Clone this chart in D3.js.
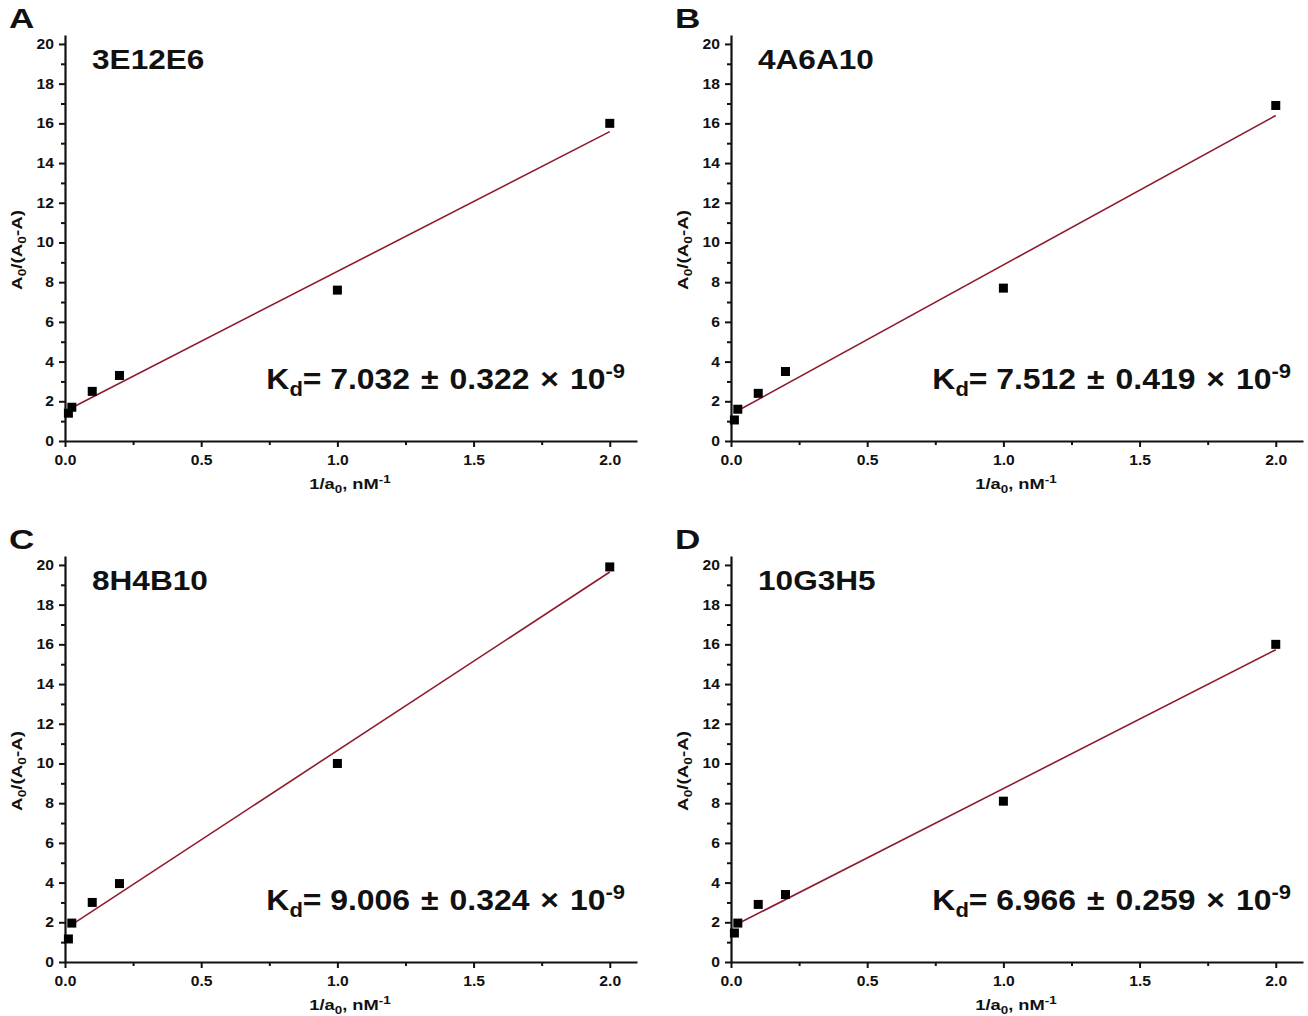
<!DOCTYPE html>
<html>
<head>
<meta charset="utf-8">
<script src="https://cdn.jsdelivr.net/npm/d3@7"></script>
<style>
  body { margin: 0; background: #fff; }
  svg { display: block; font-family: "Liberation Sans", Arial, sans-serif; font-weight: bold; }
</style>
</head>
<body>
<svg id="chart" width="1308" height="1016"></svg>
<script>
// values
var panelLetters = ["A", "B", "C", "D"];
var antibodies = ["3E12E6", "4A6A10", "8H4B10", "10G3H5"];
var inverseConc = [0.0125, 0.025, 0.1, 0.2, 1, 2]; // 1/a0, nM^-1
var ratioA = [1.4, 1.7, 2.5, 3.3, 7.6, 16.0];
var ratioB = [1.06, 1.6, 2.4, 3.5, 7.7, 16.9];
var ratioC = [1.16, 1.96, 3.0, 3.95, 10.0, 19.9];
var ratioD = [1.46, 1.96, 2.9, 3.4, 8.1, 16.0];
var kdValue = ["7.032", "7.512", "9.006", "6.966"];
var kdError = ["0.322", "0.419", "0.324", "0.259"];
var xTicks = [0, 0.5, 1, 1.5, 2];
var xMinorTicks = [0.25, 0.75, 1.25, 1.75];
var yTicks = d3.range(0, 21, 2);
var yMinorTicks = d3.range(1, 20, 2);

var series = [ratioA, ratioB, ratioC, ratioD];

var svg = d3.select("#chart"),
  plotW = 572,
  plotH = 406,
  origins = [[65, 441], [731, 441], [65, 962], [731, 962]],
  lineColor = "#8e1b2d";

var x = d3.scaleLinear().domain([0, 2.1]).range([0, plotW]),
  y = d3.scaleLinear().domain([0, 20.45]).range([plotH, 0]);

function fit(xs, ys) {
  var mx = d3.mean(xs), my = d3.mean(ys), sxy = 0, sxx = 0;
  for (var i = 0; i < xs.length; i++) {
    sxy += (xs[i] - mx) * (ys[i] - my);
    sxx += (xs[i] - mx) * (xs[i] - mx);
  }
  var slope = sxy / sxx;
  return { slope: slope, intercept: my - slope * mx };
}

// the original lettering is a bit wider than Liberation Sans
function wideText(g, px, py, sx, rot) {
  return g.append("text")
    .attr("transform", "translate(" + px + "," + py + ")" + (rot ? " rotate(" + rot + ")" : "") +
      " scale(" + sx + ",1)")
    .attr("fill", "#111");
}

function stretchTicks(sel, sx) {
  sel.selectAll(".tick text").each(function() {
    var t = d3.select(this),
      tx = +t.attr("x") || 0,
      ty = +t.attr("y") || 0;
    t.attr("font-size", 14).attr("font-family", "Liberation Sans, Arial, sans-serif")
      .attr("font-weight", "bold").attr("fill", "#111")
      .attr("x", 0).attr("y", 0)
      .attr("transform", "translate(" + tx + "," + ty + ") scale(" + sx + ",1)");
  });
}

series.forEach(function(vals, p) {
  var g = svg.append("g")
    .attr("transform", "translate(" + origins[p][0] + "," + (origins[p][1] - plotH) + ")");

  // axes: major + minor ticks
  var xAxis = g.append("g").attr("transform", "translate(0," + plotH + ")")
    .call(d3.axisBottom(x).tickValues(xTicks).tickSize(6).tickSizeOuter(0).tickPadding(8)
      .tickFormat(d3.format(".1f")));
  g.append("g").attr("transform", "translate(0," + plotH + ")")
    .call(d3.axisBottom(x).tickValues(xMinorTicks).tickSize(4).tickFormat(""))
    .select(".domain").remove();
  var yAxis = g.append("g")
    .call(d3.axisLeft(y).tickValues(yTicks).tickSize(6).tickSizeOuter(0).tickPadding(5));
  g.append("g")
    .call(d3.axisLeft(y).tickValues(yMinorTicks).tickSize(4).tickFormat(""))
    .select(".domain").remove();

  g.selectAll(".domain").attr("stroke-width", 2.2).attr("stroke", "#111");
  g.selectAll(".tick line").attr("stroke-width", 2).attr("stroke", "#111");
  stretchTicks(xAxis, 1.12);
  stretchTicks(yAxis, 1.12);

  // regression line
  var f = fit(inverseConc, vals),
    xr = d3.extent(inverseConc);
  g.append("line")
    .attr("x1", x(xr[0])).attr("y1", y(f.intercept + f.slope * xr[0]))
    .attr("x2", x(xr[1])).attr("y2", y(f.intercept + f.slope * xr[1]))
    .attr("stroke", lineColor).attr("stroke-width", 1.6);

  // points
  g.selectAll("rect.pt").data(vals).enter().append("rect")
    .attr("class", "pt")
    .attr("x", function(d, i) { return x(inverseConc[i]) - 4.5; })
    .attr("y", function(d) { return y(d) - 4.5; })
    .attr("width", 9).attr("height", 9)
    .attr("fill", "#000");

  // axis titles
  var xt = wideText(g, plotW / 2 - 1, plotH + 48, 1.22)
    .attr("text-anchor", "middle").attr("font-size", 15);
  xt.append("tspan").text("1/a");
  xt.append("tspan").attr("font-size", 11).attr("dy", 4).text("0");
  xt.append("tspan").attr("dy", -4).text(", nM");
  xt.append("tspan").attr("font-size", 11).attr("dy", -6).text("-1");

  var yt = wideText(g, -43, plotH / 2 + 12, 1.25, -90)
    .attr("text-anchor", "middle").attr("font-size", 15);
  yt.append("tspan").text("A");
  yt.append("tspan").attr("font-size", 11).attr("dy", 4).text("0");
  yt.append("tspan").attr("dy", -4).text("/(A");
  yt.append("tspan").attr("font-size", 11).attr("dy", 4).text("0");
  yt.append("tspan").attr("dy", -4).text("-A)");

  // panel letter and antibody name
  wideText(g, -56, -7, 1.3).attr("font-size", 27).text(panelLetters[p]);
  wideText(g, 27, 34, 1.17).attr("font-size", 27).text(antibodies[p]);

  // Kd annotation
  var kd = wideText(g, plotW - 12, y(2.6), 1.1)
    .attr("text-anchor", "end").attr("font-size", 29);
  kd.append("tspan").text("K");
  kd.append("tspan").attr("font-size", 20).attr("dy", 7).text("d");
  kd.append("tspan").attr("dy", -7).text("=");
  kd.append("tspan").attr("dx", 8).text(kdValue[p]);
  kd.append("tspan").attr("dx", 10).text("\u00b1");
  kd.append("tspan").attr("dx", 10).text(kdError[p]);
  kd.append("tspan").attr("dx", 10).text("\u00d7");
  kd.append("tspan").attr("dx", 10).text("10");
  kd.append("tspan").attr("font-size", 20).attr("dy", -11).text("-9");
});
</script>
</body>
</html>
